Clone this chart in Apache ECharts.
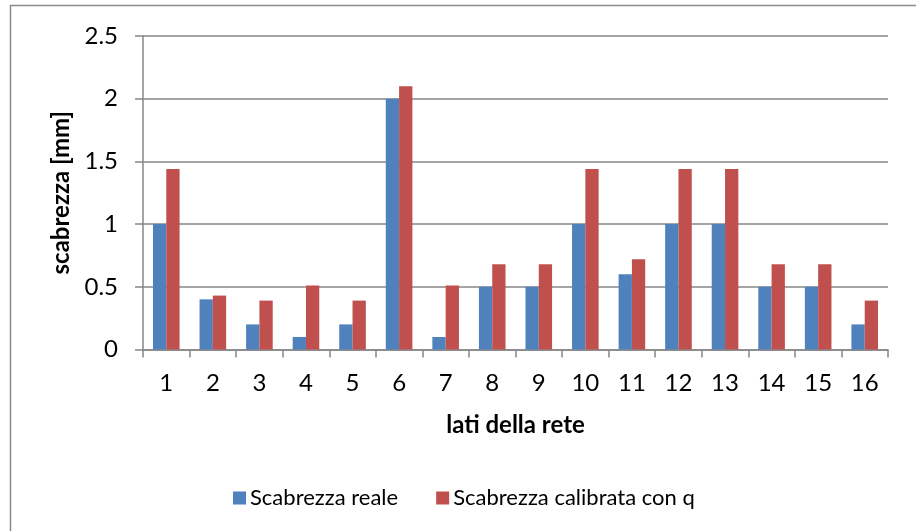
<!DOCTYPE html>
<html><head><meta charset="utf-8">
<script src="https://cdn.jsdelivr.net/npm/echarts@6/dist/echarts.min.js"></script>
<style>html,body{margin:0;padding:0;background:#fff}#c{width:916px;height:531px}</style>
</head><body><div id="c"></div>
<script>
const categories = ['1','2','3','4','5','6','7','8','9','10','11','12','13','14','15','16'];
const reale = [1, 0.4, 0.2, 0.1, 0.2, 2, 0.1, 0.5, 0.5, 1, 0.6, 1, 1, 0.5, 0.5, 0.2];
const calibrata = [1.44, 0.43, 0.39, 0.51, 0.39, 2.1, 0.51, 0.68, 0.68, 1.44, 0.72, 1.44, 1.44, 0.68, 0.68, 0.39];
const seriesNames = ['Scabrezza reale', 'Scabrezza calibrata con q'];
const yTicks = {min: 0, max: 2.5, interval: 0.5};

const FONT = 'Lato, "Open Sans", sans-serif';
const chart = echarts.init(document.getElementById('c'));
chart.setOption({
  animation: false,
  backgroundColor: '#fff',
  textStyle: {fontFamily: FONT},
  graphic: [{
    type: 'polyline', silent: true,
    shape: {points: [[10.5, 540], [10.5, 5.5], [930, 5.5]]},
    style: {stroke: '#8c8c8c', lineWidth: 1.5, fill: null}
  }],
  grid: {left: 143, right: 28, top: 36, bottom: 181.5, containLabel: false},
  legend: {
    left: 228, top: 482, itemWidth: 13, itemHeight: 13, itemGap: 38,
    icon: 'rect',
    textStyle: {fontFamily: FONT, fontSize: 22, color: '#000', padding: [0,0,0,-1]},
    data: seriesNames
  },
  xAxis: {
    type: 'category', data: categories,
    name: 'lati della rete', nameLocation: 'middle', nameGap: 64,
    nameTextStyle: {fontFamily: FONT, fontSize: 24, fontWeight: 'bold', color: '#000'},
    axisLine: {lineStyle: {color: '#878787', width: 1.5}},
    axisTick: {show: true, length: 8, alignWithLabel: false, lineStyle: {color: '#878787', width: 1.5}},
    axisLabel: {fontFamily: FONT, fontSize: 24, color: '#000', margin: 22}
  },
  yAxis: {
    type: 'value', min: yTicks.min, max: yTicks.max, interval: yTicks.interval,
    name: 'scabrezza [mm]', nameLocation: 'middle', nameGap: 68,
    nameTextStyle: {fontFamily: FONT, fontSize: 24, fontWeight: 'bold', color: '#000'},
    axisLine: {show: true, lineStyle: {color: '#878787', width: 1.5}},
    axisTick: {show: true, length: 8, lineStyle: {color: '#878787', width: 1.5}},
    splitLine: {lineStyle: {color: '#878787', width: 1.5}},
    axisLabel: {fontFamily: FONT, fontSize: 24, color: '#000', margin: 25,
      formatter: v => String(v)}
  },
  series: [
    {name: seriesNames[0], type: 'bar', data: reale, barWidth: 13.3, barGap: '0%',
     itemStyle: {color: '#4f81bd'}},
    {name: seriesNames[1], type: 'bar', data: calibrata, barWidth: 13.3, barGap: '0%',
     itemStyle: {color: '#c0504d'}}
  ]
});
</script></body></html>
